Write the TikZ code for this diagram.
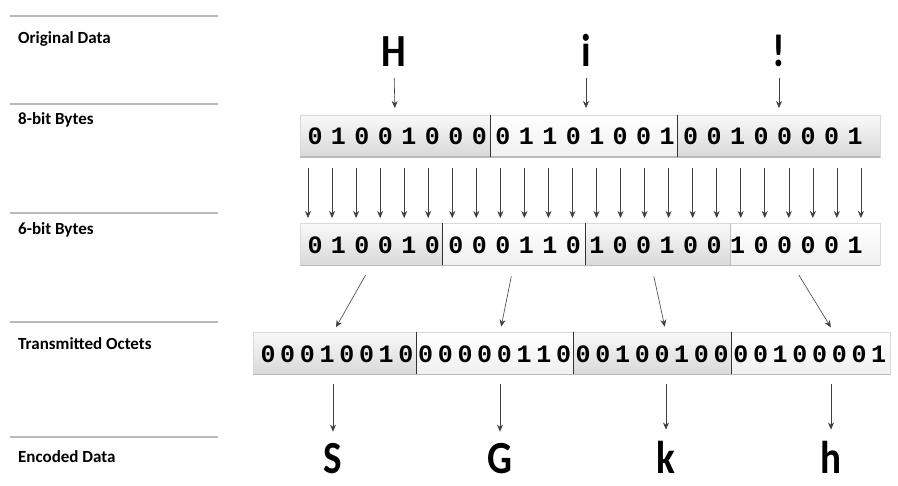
\documentclass[tikz,border=0pt]{standalone}
\usepackage{fontspec}
\usepackage{tikz}
\usetikzlibrary{arrows.meta,positioning}
\newfontfamily\labelfont{Carlito}
\newfontfamily\bitfont{Liberation Mono}
\newcommand{\squeeze}[1]{\scalebox{0.85}[1]{#1}}
\tikzset{
	rowlabel/.style = {anchor=base west, inner sep=0pt, font=\labelfont\bfseries\fontsize{17}{20}\selectfont},
	rowline/.style = {gray!55, line width=2pt},
	bitbox/.style = {draw=gray!30, inner sep=0pt, outer sep=0pt, minimum height=42pt, top color=gray!5, bottom color=gray!30},
	litebox/.style = {bitbox, top color=white, bottom color=gray!12},
	shadowline/.style = {gray!55, line width=1.5pt},
	sepline/.style = {black!80, line width=0.8pt},
	bit/.style = {inner sep=0pt, font=\bitfont\bfseries\fontsize{25}{28}\selectfont},
	letter/.style = {anchor=base, inner sep=0pt, font=\labelfont\bfseries\fontsize{46}{48}\selectfont},
	arr/.style = {-{Stealth[length=7pt,width=6pt]}, line width=0.6pt, black!75},
}

\begin{document}
\begin{tikzpicture}[x=1pt, y=-1pt]
	\path[use as bounding box, fill=white] (0,0) rectangle (898,486);

	% row labels with their rules
	\foreach \ly/\by/\txt/\nm in {16/44/Original Data/lorig, 104/125/8-bit Bytes/leight,
		213/235/6-bit Bytes/lsix, 322/350/Transmitted Octets/loct, 437/463/Encoded Data/lenc} {
		\draw[rowline] (10,\ly) -- (218,\ly);
		\node[rowlabel] (\nm) at (18,\by) {\txt};
	}

	% original data
	\node[letter] (H) at (394,67) {\squeeze{H}};
	\node[letter] (i) at (586,67) {\squeeze{i}};
	\node[letter] (excl) at (779,67) {\squeeze{!}};

	% 8-bit bytes
	\node[bitbox, minimum width=190pt] (b1) at (395,136) {};
	\node[litebox, minimum width=187pt, right=0pt of b1] (b2) {};
	\node[bitbox, minimum width=203pt, right=0pt of b2] (b3) {};
	\draw[shadowline] (b1.south west) -- (b3.south east);
	\foreach \b [count=\k from 0] in {0,1,0,0,1,0,0,0,0,1,1,0,1,0,0,1,0,0,1,0,0,0,0,1}
		\node[bit] (a\k) at (315+23.48*\k,136) {\b};
	\draw[sepline] (b1.north east) -- (b1.south east);
	\draw[sepline] (b2.north east) -- (b2.south east);

	\draw[arr, shorten <=11pt, shorten >=7pt] (H.base) -- (b1.north);
	\draw[arr, shorten <=11pt, shorten >=7pt] (i.base) -- (b2.north -| i);
	\draw[arr, shorten <=11pt, shorten >=7pt] (excl.base) -- (b3.north -| excl);

	% bit by bit
	\foreach \k in {0,...,23} {
		\coordinate (u\k) at (308+24.04*\k,168);
		\coordinate (v\k) at (308+24.04*\k,218);
		\draw[arr] (u\k) -- (v\k);
	}

	% 6-bit bytes
	\node[bitbox, minimum width=142pt] (g1) at (371,244.5) {};
	\node[litebox, minimum width=143pt, right=0pt of g1] (g2) {};
	\node[bitbox, minimum width=145pt, right=0pt of g2] (g3) {};
	\node[litebox, minimum width=150pt, right=0pt of g3] (g4) {};
	\draw[shadowline] (g1.south west) -- (g4.south east);
	\foreach \b [count=\k from 0] in {0,1,0,0,1,0,0,0,0,1,1,0,1,0,0,1,0,0,1,0,0,0,0,1}
		\node[bit] (c\k) at (315+23.48*\k,245) {\b};
	\draw[sepline] (g1.north east) -- (g1.south east);
	\draw[sepline] (g2.north east) -- (g2.south east);
	\draw[sepline, gray!50] (g3.north east) -- (g3.south east);

	% transmitted octets
	\node[bitbox, minimum width=163pt] (o1) at (334.5,353.5) {};
	\node[litebox, minimum width=157pt, right=0pt of o1] (o2) {};
	\node[bitbox, minimum width=158pt, right=0pt of o2] (o3) {};
	\node[litebox, minimum width=159pt, right=0pt of o3] (o4) {};
	\draw[shadowline] (o1.south west) -- (o4.south east);
	\foreach \b [count=\k from 0] in {0,0,0,1,0,0,1,0,0,0,0,0,0,1,1,0,0,0,1,0,0,1,0,0,0,0,1,0,0,0,0,1}
		\node[bit] (d\k) at (268+19.7*\k,354) {\b};
	\draw[sepline] (o1.north east) -- (o1.south east);
	\draw[sepline] (o2.north east) -- (o2.south east);
	\draw[sepline] (o3.north east) -- (o3.south east);

	% encoded data
	\node[letter] (S) at (333,474) {\squeeze{S}};
	\node[letter] (G) at (500,474) {\squeeze{G}};
	\node[letter] (k) at (666,474) {\squeeze{k}};
	\node[letter] (h) at (831,474) {\squeeze{h}};

	\draw[arr, shorten <=11pt, shorten >=6pt] (g1.south) -- (o1.north -| S);
	\draw[arr, shorten <=11pt, shorten >=6pt] (g2.south) -- (o2.north -| G);
	\draw[arr, shorten <=11pt, shorten >=6pt] ([xshift=-6pt]g3.south) -- (o3.north -| k);
	\draw[arr, shorten <=11pt, shorten >=6pt] ([xshift=-12pt]g4.south) -- ([xshift=3pt]o4.north -| h);

	\draw[arr, shorten <=10pt, shorten >=12pt] (o1.south -| S) -- (S.north);
	\draw[arr, shorten <=10pt, shorten >=12pt] (o2.south -| G) -- (G.north);
	\draw[arr, shorten <=10pt, shorten >=12pt] (o3.south -| k) -- (k.north);
	\draw[arr, shorten <=10pt, shorten >=12pt] (o4.south -| h) -- (h.north);
\end{tikzpicture}
\end{document}
